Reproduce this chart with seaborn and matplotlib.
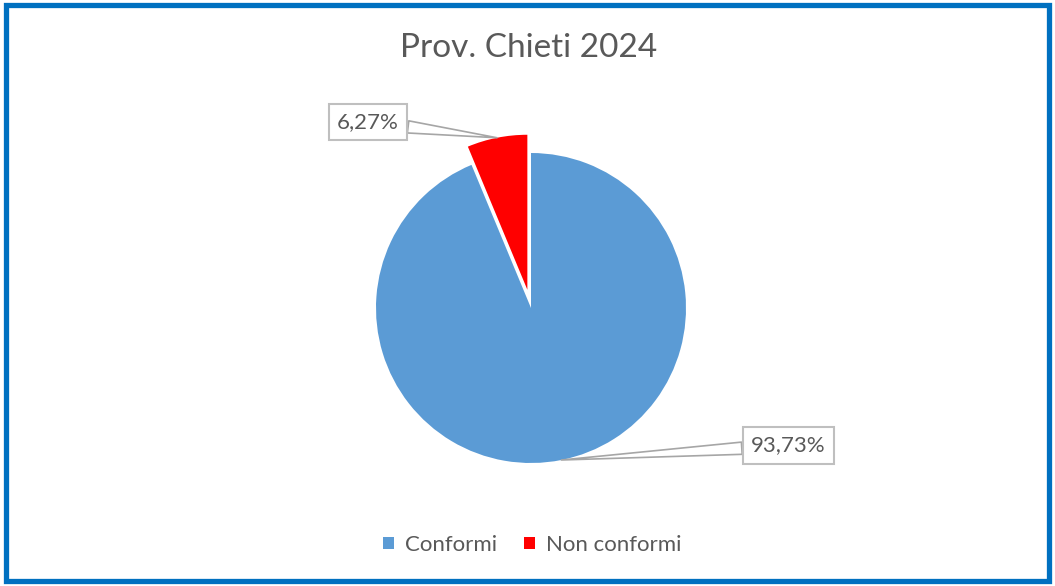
import matplotlib
matplotlib.use("Agg")
import matplotlib.pyplot as plt
import seaborn as sns
import numpy as np
from matplotlib.patches import Rectangle, Patch

categories = ["Conformi", "Non conformi"]
values = [93.73, 6.27]
labels = ["93,73%", "6,27%"]
colors = ["#5B9BD5", "#FF0000"]
title = "Prov. Chieti 2024"

sns.set_theme(style="white")
plt.rcParams["font.family"] = ["Lato", "DejaVu Sans"]

W, H = 1055, 586
fig = plt.figure(figsize=(W / 100, H / 100), dpi=100)
fig.patch.set_facecolor("white")

cx, cy, r = 531, 308, 155
ax = fig.add_axes([(cx - r) / W, 1 - (cy + r) / H, 2 * r / W, 2 * r / H])
explode = [0, 0.12]
wedges, _ = ax.pie(values, colors=colors, startangle=90, counterclock=False,
                   explode=explode, wedgeprops=dict(linewidth=0))
ax.set_xlim(-1, 1)
ax.set_ylim(-1, 1)
ax.set_aspect("equal")
ax.axis("off")

# label positions (data coords relative to pie)
label_pos = [(1.66, -0.885), (-1.052, 1.2)]
for w, lab, pos, ex in zip(wedges, labels, label_pos, explode):
    mid = np.deg2rad((w.theta1 + w.theta2) / 2)
    ax_ = np.cos(mid) * (1 + ex)
    ay_ = np.sin(mid) * (1 + ex)
    ax.annotate(lab, xy=(ax_, ay_), xytext=pos, ha="center", va="center",
                fontsize=16, color="#595959", annotation_clip=False,
                bbox=dict(boxstyle="square,pad=0.38", fc="white", ec="#BFBFBF", lw=1.5),
                arrowprops=dict(arrowstyle="wedge,tail_width=0.55,shrink_factor=0.5",
                                fc="white", ec="#A6A6A6", lw=1.2, shrinkA=0, shrinkB=0))

fig.text(529 / W, 1 - 48 / H, title, ha="center", va="center", fontsize=24, color="#595959")

handles = [Patch(facecolor=c, edgecolor="none") for c in colors]
fig.legend(handles, categories, loc="center", bbox_to_anchor=(532 / W, 1 - 545 / H),
           ncol=2, frameon=False, fontsize=16, labelcolor="#595959",
           handlelength=0.5, handleheight=0.5, handletextpad=0.5, columnspacing=1.2)

fig.patches.append(Rectangle((5.5 / W, 5 / H), (1049 - 5.5) / W, (581 - 5) / H,
                             transform=fig.transFigure, fill=False,
                             ec="#0070C0", lw=3.8, zorder=10))

fig.savefig("out.png", dpi=100, facecolor="white")
